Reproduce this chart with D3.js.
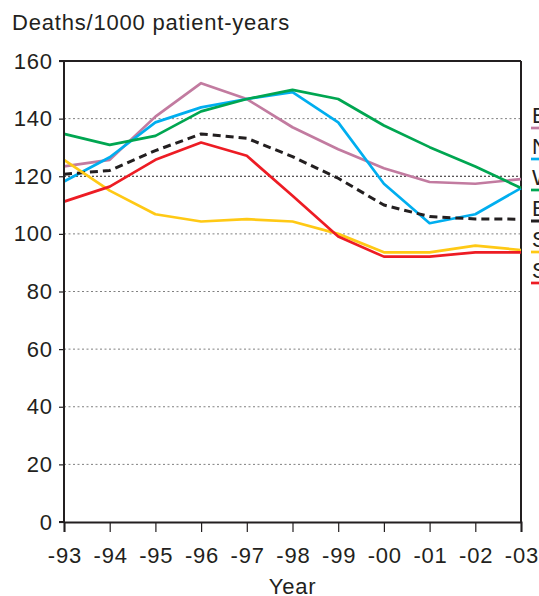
<!DOCTYPE html>
<html><head><meta charset="utf-8">
<script src="https://cdn.jsdelivr.net/npm/d3@7/dist/d3.min.js"></script>
<style>body{margin:0;background:#fff;overflow:hidden}svg{display:block}text{font-family:"Liberation Sans",Arial,sans-serif;fill:#231f20}</style>
</head><body><svg id="c" width="539" height="596"></svg>
<script>
const years = ["-93","-94","-95","-96","-97","-98","-99","-00","-01","-02","-03"];
const yTicks = [0,20,40,60,80,100,120,140,160];
const seriesNames = ["East","North","West","Entire country","South","Stockholm"];
const seriesColors = ["#c27ba0","#00aeef","#00a651","#231f20","#ffc915","#ed1c24"];
const east      = [123.4,125.7,140.7,152.3,146.8,137.0,129.4,122.8,118.0,117.4,119.0];
const north     = [118.2,126.6,138.7,143.9,146.8,149.2,138.7,117.4,103.7,106.8,115.9];
const west      = [134.7,130.9,134.0,142.5,146.8,150.0,146.8,137.6,130.1,123.4,115.9];
const entire    = [120.7,122.0,128.9,134.7,133.2,126.8,119.3,110.0,106.0,105.2,105.1];
const southY    = [125.7,115.0,106.8,104.3,105.1,104.3,100.0,93.6,93.6,95.9,94.4];
const southR    = [111.2,116.4,125.7,131.7,127.1,113.2,99.1,92.1,92.1,93.6,93.6];
const seriesValues = [east,north,west,entire,southY,southR];

const svg = d3.select("#c");
const L=64, R=521, T=61, B=522;
const FS=22, LS="0.8px";
const x = d3.scalePoint().domain(years).range([L,R]);
const y = d3.scaleLinear().domain([0,160]).range([B,T]);

// gridlines
svg.append("g").selectAll("line").data(yTicks.filter(d=>d>0&&d<160)).join("line")
  .attr("x1",L).attr("x2",R).attr("y1",d=>y(d)).attr("y2",d=>y(d))
  .attr("stroke",d=>d===120?"#231f20":"#808080").attr("stroke-width",1)
  .attr("stroke-dasharray",d=>d===120?"2,2":"2,2.5");

// frame
svg.append("line").attr("x1",L).attr("x2",R).attr("y1",T).attr("y2",T).attr("stroke","#231f20").attr("stroke-width",2);
svg.append("line").attr("x1",R).attr("x2",R).attr("y1",T).attr("y2",B).attr("stroke","#231f20").attr("stroke-width",2);

// series
const line = d3.line().x((d,i)=>x(years[i])).y(d=>y(d));
seriesValues.forEach((vals,k)=>{
  svg.append("path").datum(vals).attr("d",line).attr("fill","none")
    .attr("stroke",seriesColors[k]).attr("stroke-width",k===3?3:2.7)
    .attr("stroke-dasharray",k===3?"8,5":null).attr("stroke-linejoin","round");
});

// axes
const yAxis = svg.append("g").attr("transform",`translate(${L},0)`)
  .call(d3.axisLeft(y).tickValues(yTicks).tickSize(5).tickPadding(7));
const xAxis = svg.append("g").attr("transform",`translate(0,${B})`)
  .call(d3.axisBottom(x).tickSize(10).tickPadding(15));
[yAxis,xAxis].forEach(g=>{
  g.select(".domain").attr("stroke","#231f20").attr("stroke-width",2);
  g.selectAll(".tick line").attr("stroke","#231f20").attr("stroke-width",1.2);
  g.selectAll(".tick text").attr("font-size",FS).attr("fill","#231f20")
   .attr("letter-spacing",LS)
   .attr("font-family","'Liberation Sans',Arial,sans-serif");
});
yAxis.selectAll(".tick text").attr("dx","0.8px");
xAxis.selectAll(".tick text").attr("dx","0.4px");
yAxis.select(".domain").attr("d",`M-5,${T}H0V${B}H-5`);

svg.append("text").attr("x",12).attr("y",30).attr("font-size",FS).attr("letter-spacing",LS).text("Deaths/1000 patient-years");
svg.append("text").attr("x",(L+R)/2).attr("y",594).attr("text-anchor","middle").attr("font-size",FS).attr("letter-spacing",LS).text("Year");

// legend
const lg = svg.append("g");
seriesNames.forEach((n,k)=>{
  const by = 123 + k*31;
  lg.append("text").attr("x",532).attr("y",by).attr("font-size",22).text(n);
  lg.append("line").attr("x1",531).attr("x2",560).attr("y1",by+5).attr("y2",by+5)
    .attr("stroke",seriesColors[k]).attr("stroke-width",k===3?3:2.7)
    .attr("stroke-dasharray",k===3?"8,5":null);
});
</script></body></html>
